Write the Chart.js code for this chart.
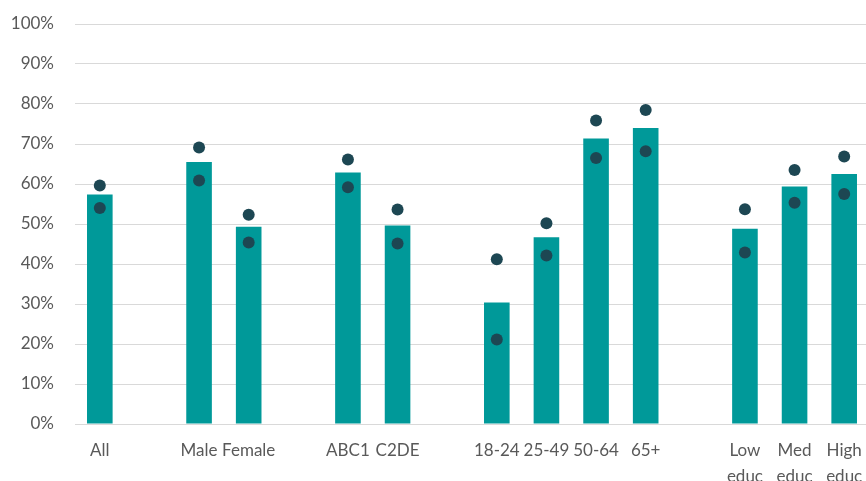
<!DOCTYPE html>
<html>
<head>
<meta charset="utf-8">
<script src="https://cdn.jsdelivr.net/npm/chart.js@4/dist/chart.umd.min.js"></script>
<style>
html,body{margin:0;padding:0;background:#fff;overflow:hidden;}
#wrap{width:866px;height:481px;overflow:hidden;}
</style>
</head>
<body>
<div id="wrap"><canvas id="c" width="875" height="481"></canvas></div>
<script>
const categories = ['All','','Male','Female','','ABC1','C2DE','','18-24','25-49','50-64','65+','',['Low','educ'],['Med','educ'],['High','educ']];
const barValues  = [57.4,null,65.5,49.3,null,62.9,49.6,null,30.4,46.7,71.4,74.0,null,48.8,59.4,62.5];
const upperDots  = [59.6,null,69.1,52.3,null,66.1,53.6,null,41.2,50.2,75.9,78.5,null,53.7,63.5,66.9];
const lowerDots  = [54.0,null,60.9,45.4,null,59.2,45.1,null,21.1,42.1,66.5,68.2,null,42.9,55.3,57.5];
const yTicks = [0,10,20,30,40,50,60,70,80,90,100];

const FONT = "Lato, 'Open Sans', sans-serif";
const dotStyle = {
  type: 'line', showLine: false, pointRadius: 6, pointHoverRadius: 6,
  pointBackgroundColor: '#1d4753', pointBorderColor: '#1d4753', pointBorderWidth: 0,
  backgroundColor: '#1d4753', borderColor: '#1d4753', order: 1
};

new Chart(document.getElementById('c'), {
  type: 'bar',
  data: {
    labels: categories,
    datasets: [
      Object.assign({ label: 'Upper', data: upperDots }, dotStyle),
      Object.assign({ label: 'Lower', data: lowerDots }, dotStyle),
      { type: 'bar', label: 'Value', data: barValues, backgroundColor: '#009999',
        borderWidth: 0, categoryPercentage: 1, barPercentage: 0.516, order: 2 }
    ]
  },
  options: {
    responsive: false, animation: false,
    layout: { padding: { top: 24, right: 0, left: 0, bottom: 0 } },
    plugins: { legend: { display: false }, tooltip: { enabled: false } },
    scales: {
      x: {
        offset: true,
        afterFit: s => { s.height = 57; s.paddingLeft = 0; s.paddingRight = 0; },
        grid: { display: false, drawTicks: false },
        border: { display: false },
        ticks: { color: '#595959', font: { family: FONT, size: 17, lineHeight: 1.5 },
                 maxRotation: 0, minRotation: 0, autoSkip: false, padding: 14 }
      },
      y: {
        min: 0, max: 100,
        afterBuildTicks: s => { s.ticks = yTicks.map(v => ({ value: v })); },
        afterFit: s => { s.width = 75; s.paddingTop = 0; s.paddingBottom = 0; },
        grid: { color: '#d9d9d9', lineWidth: 1, drawTicks: false },
        border: { display: false },
        ticks: { color: '#595959', font: { family: FONT, size: 17 }, padding: 21,
                 callback: v => v + '%' }
      }
    }
  }
});
</script>
</body>
</html>
